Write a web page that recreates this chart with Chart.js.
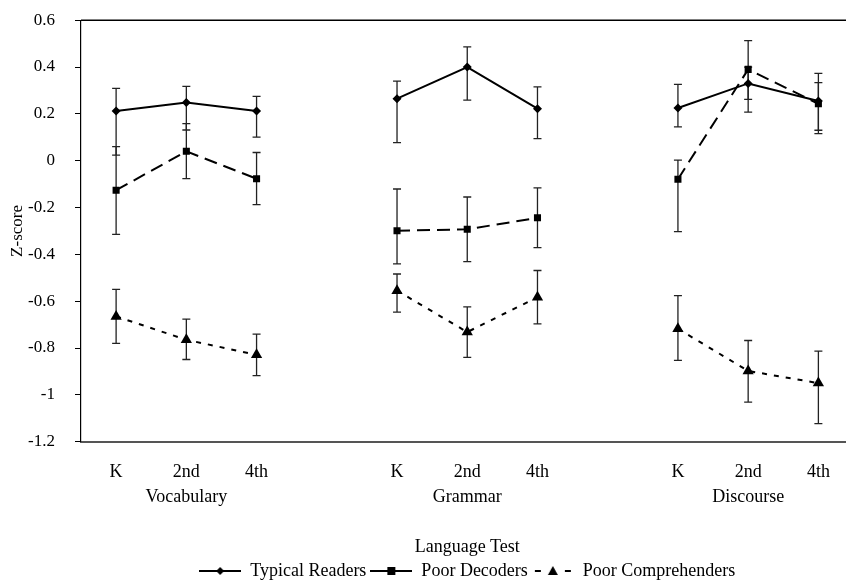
<!DOCTYPE html>
<html><head>
<meta charset="utf-8">
<title>Language Test Z-scores</title>
<script src="https://cdn.jsdelivr.net/npm/chart.js@4"></script>
<style>
html, body { margin: 0; padding: 0; background: #fff; overflow: hidden; }
.chart-container { width: 860px; height: 600px; margin-top: -10px; }
</style></head><body>
<div class="chart-container"><canvas id="chart"></canvas></div>
<script>
// Grade slots per language test; empty slots keep the three tests apart
const GRADES = ['K', '2nd', '4th', '', 'K', '2nd', '4th', '', 'K', '2nd', '4th'];
const TESTS = ['Vocabulary', 'Grammar', 'Discourse'];
const TEST_SLOT = [1, 5, 9]; // test name goes under the 2nd-grade label

const Y_MIN = -1.2;
const Y_MAX = 0.6;
const Y_STEP = 0.2;

const typicalMean = [0.212, 0.248, 0.212, null, 0.265, 0.400, 0.222, null, 0.225, 0.330, 0.255];
const typicalHi   = [0.309, 0.317, 0.275, null, 0.340, 0.486, 0.315, null, 0.326, 0.400, 0.333];
const typicalLo   = [0.024, 0.131, 0.101, null, 0.077, 0.259, 0.094, null, 0.144, 0.262, 0.130];

const decoderMean = [-0.126, 0.040, -0.077, null, -0.299, -0.293, -0.244, null, -0.079, 0.390, 0.243];
const decoderHi   = [0.060, 0.158, 0.035, null, -0.121, -0.155, -0.116, null, 0.002, 0.513, 0.373];
const decoderLo   = [-0.315, -0.077, -0.188, null, -0.441, -0.431, -0.371, null, -0.303, 0.207, 0.116];

const comprehenderMean = [-0.665, -0.765, -0.829, null, -0.555, -0.732, -0.583, null, -0.718, -0.898, -0.950];
const comprehenderHi   = [-0.550, -0.677, -0.741, null, -0.484, -0.624, -0.469, null, -0.576, -0.768, -0.813];
const comprehenderLo   = [-0.780, -0.849, -0.918, null, -0.647, -0.840, -0.697, null, -0.853, -1.031, -1.123];

const FONT = '"Liberation Serif", "Times New Roman", serif';

// two-line category labels: grade on top, test name under the middle grade
const labels = GRADES.map((g, i) => {
  const t = TEST_SLOT.indexOf(i);
  return t >= 0 ? [g, TESTS[t]] : g;
});

const SERIES = [
  { label: 'Typical Readers', data: typicalMean, hi: typicalHi, lo: typicalLo,
    pointStyle: 'rectRot', radius: 4.5, dash: [] },
  { label: 'Poor Decoders', data: decoderMean, hi: decoderHi, lo: decoderLo,
    pointStyle: 'rect', radius: 5, dash: [13, 7] },
  { label: 'Poor Comprehenders', data: comprehenderMean, hi: comprehenderHi, lo: comprehenderLo,
    pointStyle: 'triangle', radius: 6.5, dash: [5, 7] },
];

// small line + marker swatch for the legend
function legendSwatch(s) {
  const c = document.createElement('canvas');
  c.width = 42; c.height = 14;
  const g = c.getContext('2d');
  g.strokeStyle = '#000';
  g.fillStyle = '#000';
  g.lineWidth = 2;
  const cy = 7, cx = 21;
  g.beginPath();
  if (s.pointStyle === 'triangle') {
    g.moveTo(3, cy); g.lineTo(9, cy);
    g.moveTo(33, cy); g.lineTo(39, cy);
  } else {
    g.moveTo(0, cy); g.lineTo(42, cy);
  }
  g.stroke();
  g.beginPath();
  if (s.pointStyle === 'rectRot') {
    g.moveTo(cx, cy - 4); g.lineTo(cx + 4, cy); g.lineTo(cx, cy + 4); g.lineTo(cx - 4, cy);
  } else if (s.pointStyle === 'rect') {
    g.rect(cx - 4, cy - 4, 8, 8);
  } else {
    g.moveTo(cx, cy - 5); g.lineTo(cx + 5, cy + 4); g.lineTo(cx - 5, cy + 4);
  }
  g.closePath();
  g.fill();
  return c;
}

// top edge of the plot frame
const topFrame = {
  id: 'topFrame',
  beforeDatasetsDraw(chart) {
    const { ctx, chartArea: a } = chart;
    ctx.save();
    ctx.strokeStyle = '#000';
    ctx.lineWidth = 1.5;
    ctx.beginPath();
    ctx.moveTo(a.left, a.top);
    ctx.lineTo(a.right, a.top);
    ctx.stroke();
    ctx.restore();
  }
};

// vertical error bars with caps, drawn under the markers
const errorBars = {
  id: 'errorBars',
  beforeDatasetsDraw(chart) {
    const { ctx, scales: { x, y } } = chart;
    ctx.save();
    ctx.strokeStyle = '#222';
    ctx.lineWidth = 1.3;
    SERIES.forEach(s => {
      s.data.forEach((v, i) => {
        if (v == null) return;
        const px = x.getPixelForValue(i);
        const top = y.getPixelForValue(s.hi[i]);
        const bot = y.getPixelForValue(s.lo[i]);
        ctx.beginPath();
        ctx.moveTo(px, top); ctx.lineTo(px, bot);
        ctx.moveTo(px - 4, top); ctx.lineTo(px + 4, top);
        ctx.moveTo(px - 4, bot); ctx.lineTo(px + 4, bot);
        ctx.stroke();
      });
    });
    ctx.restore();
  }
};

const datasets = SERIES.map(s => ({
  label: s.label,
  data: s.data,
  borderColor: '#000',
  backgroundColor: '#000',
  borderWidth: 2,
  borderDash: s.dash,
  pointStyle: s.pointStyle,
  pointRadius: s.radius,
  pointHoverRadius: s.radius,
  pointBorderWidth: 0,
  pointBackgroundColor: '#000',
  spanGaps: false,
  tension: 0,
}));

new Chart(document.getElementById('chart'), {
  type: 'line',
  data: { labels, datasets },
  plugins: [topFrame, errorBars],
  options: {
    responsive: true,
    maintainAspectRatio: false,
    animation: false,
    layout: { padding: { top: 19, left: 0, right: 0, bottom: 0 } },
    plugins: {
      tooltip: { enabled: false },
      legend: {
        position: 'bottom',
        fullSize: false,
        labels: {
          color: '#000',
          font: { family: FONT, size: 18 },
          usePointStyle: true,
          pointStyleWidth: 42,
          padding: 4,
          generateLabels: () => SERIES.map((s, i) => ({
            text: s.label,
            pointStyle: legendSwatch(s),
            fillStyle: '#000',
            strokeStyle: '#000',
            lineWidth: 0,
            hidden: false,
            datasetIndex: i,
          })),
        },
      },
    },
    scales: {
      x: {
        type: 'category',
        offset: true,
        grid: { display: false, drawTicks: false },
        border: { display: true, color: '#555', width: 2 },
        ticks: {
          autoSkip: false,
          maxRotation: 0,
          padding: 18,
          color: '#000',
          font: { family: FONT, size: 18, lineHeight: 1.39 },
        },
        title: {
          display: true,
          text: 'Language Test',
          color: '#000',
          font: { family: FONT, size: 18 },
          padding: { top: 8.7, bottom: 0 },
        },
      },
      y: {
        min: Y_MIN,
        max: Y_MAX,
        afterFit: scale => { scale.width = 81; },
        grid: { display: true, drawOnChartArea: false, drawTicks: true, tickLength: 6, color: '#000' },
        border: { display: true, color: '#000', width: 1.2 },
        ticks: {
          stepSize: Y_STEP,
          padding: 20,
          color: '#000',
          font: { family: FONT, size: 17 },
          callback: v => String(+v.toFixed(1)),
        },
        title: {
          display: true,
          text: 'Z-score',
          color: '#000',
          font: { family: FONT, size: 17 },
          padding: { top: 7, bottom: 0 },
        },
      },
    },
  },
});
</script></body></html>
